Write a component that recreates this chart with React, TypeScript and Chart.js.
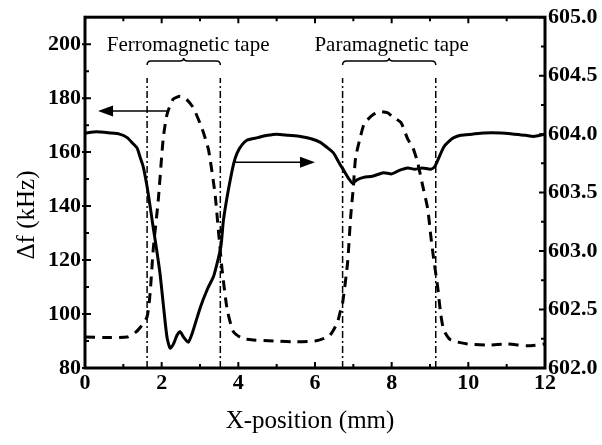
import React, { useEffect, useRef } from 'react';
import { Chart, registerables } from 'chart.js';
Chart.register(...registerables);

// X-position (mm) for the solid curve (right axis)
const solidX = [0, 0.3, 0.65, 0.9, 1.1, 1.25, 1.36, 1.44, 1.52, 1.62, 1.7, 1.78, 1.87, 1.96, 2.05, 2.14, 2.22, 2.3, 2.4, 2.48, 2.58, 2.69, 2.8, 3.01, 3.2, 3.35, 3.48, 3.55, 3.61, 3.7, 3.79, 3.88, 3.97, 4.1, 4.24, 4.5, 4.76, 5.0, 5.3, 5.62, 5.9, 6.14, 6.3, 6.48, 6.62, 6.75, 6.88, 6.98, 7.1, 7.27, 7.5, 7.79, 8.0, 8.2, 8.42, 8.6, 8.8, 9.02, 9.12, 9.22, 9.36, 9.5, 9.62, 9.8, 10.1, 10.4, 10.85, 11.2, 11.5, 11.7, 12.0];
const solidY = [604.01, 604.02, 604.01, 604.0, 603.97, 603.92, 603.88, 603.8, 603.72, 603.55, 603.38, 603.2, 603.01, 602.8, 602.52, 602.26, 602.17, 602.2, 602.28, 602.31, 602.26, 602.22, 602.3, 602.52, 602.68, 602.78, 602.94, 603.05, 603.26, 603.45, 603.61, 603.75, 603.84, 603.91, 603.95, 603.97, 603.99, 604.0, 603.99, 603.98, 603.96, 603.93, 603.89, 603.84, 603.76, 603.69, 603.62, 603.58, 603.61, 603.63, 603.64, 603.67, 603.66, 603.69, 603.71, 603.7, 603.71, 603.7, 603.72, 603.79, 603.89, 603.94, 603.97, 603.99, 604.0, 604.01, 604.01, 604.0, 603.99, 603.98, 604.0];

// X-position (mm) for the dashed curve (left axis, Δf kHz)
const dashedX = [0, 0.5, 1.1, 1.3, 1.44, 1.62, 1.7, 1.78, 1.91, 2.04, 2.14, 2.3, 2.48, 2.65, 2.8, 2.88, 3.06, 3.22, 3.34, 3.4, 3.48, 3.58, 3.71, 3.87, 4.1, 4.39, 4.92, 5.44, 6.0, 6.25, 6.4, 6.58, 6.67, 6.72, 6.85, 6.93, 7.0, 7.06, 7.19, 7.27, 7.37, 7.53, 7.71, 7.9, 8.03, 8.24, 8.42, 8.55, 8.68, 8.81, 8.94, 9.02, 9.1, 9.2, 9.28, 9.36, 9.54, 9.98, 10.5, 11.03, 11.55, 12.0];
const dashedY = [91.5, 91.3, 91.5, 93, 95, 99, 108, 124, 142, 165, 174, 179.6, 180.7, 179.5, 177, 174.8, 168.5, 161, 150, 143.6, 131, 116, 101.6, 93.5, 91, 90.4, 90, 89.7, 90, 91, 92.3, 96.7, 101.5, 104, 119, 136, 147, 158, 166, 170, 172, 174, 175, 174.5, 173, 171, 164.8, 161.8, 156, 147.5, 139, 129, 120, 110, 100, 94, 90.4, 88.9, 88.5, 88.9, 88.2, 88.9];

const xTickValues = [0, 2, 4, 6, 8, 10, 12];
const leftTickValues = [80, 100, 120, 140, 160, 180, 200];
const rightTickValues = [602.0, 602.5, 603.0, 603.5, 604.0, 604.5, 605.0];

// tape boundaries (mm) : ferromagnetic [0,1], paramagnetic [2,3]
const tapeEdges = [1.62, 3.53, 6.72, 9.15];
const tapeLabels = ['Ferromagnetic tape', 'Paramagnetic tape'];
const tapeLabelX = [2.69, 8.0];
const tapeLabelY = 197.5;
const braceY = 193.8;
const edgeTop = 187.5;

// arrows
const leftArrow = { from: 2.15, to: 0.34, y: 175.2 };
const rightArrow = { from: 3.87, to: 6.0, y: 603.76 };

const SERIF = '"Liberation Serif", "Times New Roman", serif';

export default function App() {
  const ref = useRef<HTMLCanvasElement | null>(null);

  useEffect(() => {
    if (!ref.current) return;

    const deco = {
      id: 'deco',
      afterDatasetsDraw(chart: any) {
        const ctx = chart.ctx as CanvasRenderingContext2D;
        const xs = chart.scales.x;
        const yl = chart.scales.y;
        const yr = chart.scales.y2;
        const { left, right, top, bottom } = chart.chartArea;
        ctx.save();
        ctx.strokeStyle = '#000';
        ctx.fillStyle = '#000';

        const drawArrow = (x1: number, x2: number, y: number) => {
          ctx.lineWidth = 1.5;
          ctx.setLineDash([]);
          const dir = Math.sign(x2 - x1);
          ctx.beginPath();
          ctx.moveTo(x1, y);
          ctx.lineTo(x2 - dir * 12, y);
          ctx.stroke();
          ctx.beginPath();
          ctx.moveTo(x2, y);
          ctx.lineTo(x2 - dir * 15, y - 5.5);
          ctx.lineTo(x2 - dir * 15, y + 5.5);
          ctx.closePath();
          ctx.fill();
        };
        drawArrow(xs.getPixelForValue(leftArrow.from), xs.getPixelForValue(leftArrow.to), yl.getPixelForValue(leftArrow.y));
        drawArrow(xs.getPixelForValue(rightArrow.from), xs.getPixelForValue(rightArrow.to), yr.getPixelForValue(rightArrow.y));

        const drawBrace = (a: number, b: number, y: number) => {
          const xa = xs.getPixelForValue(a);
          const xb = xs.getPixelForValue(b);
          const xm = (xa + xb) / 2;
          ctx.lineWidth = 1.5;
          ctx.beginPath();
          ctx.moveTo(xa, y + 4);
          ctx.quadraticCurveTo(xa, y, xa + 4, y);
          ctx.lineTo(xm - 4, y);
          ctx.quadraticCurveTo(xm, y, xm, y - 3);
          ctx.quadraticCurveTo(xm, y, xm + 4, y);
          ctx.lineTo(xb - 4, y);
          ctx.quadraticCurveTo(xb, y, xb, y + 4);
          ctx.stroke();
        };
        const by = yl.getPixelForValue(braceY);
        drawBrace(tapeEdges[0], tapeEdges[1], by);
        drawBrace(tapeEdges[2], tapeEdges[3], by);

        ctx.font = `21px ${SERIF}`;
        ctx.textAlign = 'center';
        ctx.textBaseline = 'alphabetic';
        tapeLabels.forEach((t, i) => {
          ctx.fillText(t, xs.getPixelForValue(tapeLabelX[i]), yl.getPixelForValue(tapeLabelY));
        });

        // inward ticks
        ctx.lineWidth = 2;
        ctx.beginPath();
        for (let v = 0; v <= 12; v += 1) {
          const px = xs.getPixelForValue(v);
          const len = v % 2 === 0 ? 6 : 4;
          ctx.moveTo(px, bottom);
          ctx.lineTo(px, bottom - len);
          ctx.moveTo(px, top);
          ctx.lineTo(px, top + len);
        }
        for (let v = 80; v <= 210; v += 10) {
          const py = yl.getPixelForValue(v);
          const major = v % 20 === 0;
          ctx.moveTo(major ? left - 3 : left, py);
          ctx.lineTo(left + (major ? 6 : 4), py);
        }
        for (let i = 0; i <= 12; i++) {
          const v = 602 + i * 0.25;
          const py = yr.getPixelForValue(v);
          const major = i % 2 === 0;
          ctx.moveTo(right, py);
          ctx.lineTo(right - (major ? 6 : 4), py);
        }
        ctx.stroke();

        ctx.lineWidth = 3;
        ctx.strokeRect(left, top, right - left, bottom - top);
        ctx.restore();
      },
      afterDraw(chart: any) {
        const ctx = chart.ctx as CanvasRenderingContext2D;
        ctx.save();
        ctx.fillStyle = '#000';
        ctx.font = `25px ${SERIF}`;
        ctx.textAlign = 'center';
        ctx.textBaseline = 'middle';
        ctx.fillText('X-position (mm)', 310, 421);
        ctx.translate(27, 215);
        ctx.rotate(-Math.PI / 2);
        ctx.fillText('Δf (kHz)', 0, 0);
        ctx.restore();
      },
    };

    const edgeSets = tapeEdges.map((e) => ({
      data: [{ x: e, y: 80 }, { x: e, y: edgeTop }],
      yAxisID: 'y',
      borderColor: '#000',
      borderWidth: 1.5,
      borderDash: [7, 3, 2, 3],
      pointRadius: 0,
      tension: 0,
    }));

    const tickFont = { family: SERIF, size: 22, weight: 'bold' as const };
    const noGrid = { display: false, drawTicks: false, tickLength: 0 };

    const chart = new Chart(ref.current, {
      type: 'line',
      data: {
        datasets: [
          {
            data: solidX.map((x, i) => ({ x, y: solidY[i] })),
            yAxisID: 'y2',
            borderColor: '#000',
            borderWidth: 3,
            pointRadius: 0,
            tension: 0.2,
            borderJoinStyle: 'round',
            borderCapStyle: 'round',
          },
          {
            data: dashedX.map((x, i) => ({ x, y: dashedY[i] })),
            yAxisID: 'y',
            borderColor: '#000',
            borderWidth: 3,
            borderDash: [10, 7],
            pointRadius: 0,
            tension: 0.2,
          },
          ...edgeSets,
        ] as any,
      },
      options: {
        animation: false,
        responsive: false,
        devicePixelRatio: 1,
        layout: { padding: { top: 17, left: 0, right: 0, bottom: 0 } },
        plugins: { legend: { display: false }, tooltip: { enabled: false }, title: { display: false } },
        scales: {
          x: {
            type: 'linear',
            min: 0,
            max: 12,
            afterFit: (s: any) => { s.height = 77; },
            afterBuildTicks: (s: any) => { s.ticks = xTickValues.map((v) => ({ value: v })); },
            grid: noGrid,
            border: { display: false },
            ticks: { color: '#000', font: tickFont, padding: 2, maxRotation: 0, autoSkip: false },
          },
          y: {
            type: 'linear',
            position: 'left',
            min: 80,
            max: 210,
            afterFit: (s: any) => { s.width = 85; },
            afterBuildTicks: (s: any) => { s.ticks = leftTickValues.map((v) => ({ value: v })); },
            grid: noGrid,
            border: { display: false },
            ticks: { color: '#000', font: tickFont, padding: 4, autoSkip: false },
          },
          y2: {
            type: 'linear',
            position: 'right',
            min: 602,
            max: 605,
            afterFit: (s: any) => { s.width = 57; },
            afterBuildTicks: (s: any) => { s.ticks = rightTickValues.map((v) => ({ value: v })); },
            grid: noGrid,
            border: { display: false },
            ticks: { color: '#000', font: tickFont, padding: 3, autoSkip: false, callback: (v: any) => Number(v).toFixed(1) },
          },
        },
      },
      plugins: [deco],
    });
    return () => chart.destroy();
  }, []);

  return (
    <div style={{ position: 'fixed', left: 0, top: 0, width: 602, height: 445, background: '#fff' }}>
      <canvas ref={ref} width={602} height={445} style={{ width: 602, height: 445 }} />
    </div>
  );
}
